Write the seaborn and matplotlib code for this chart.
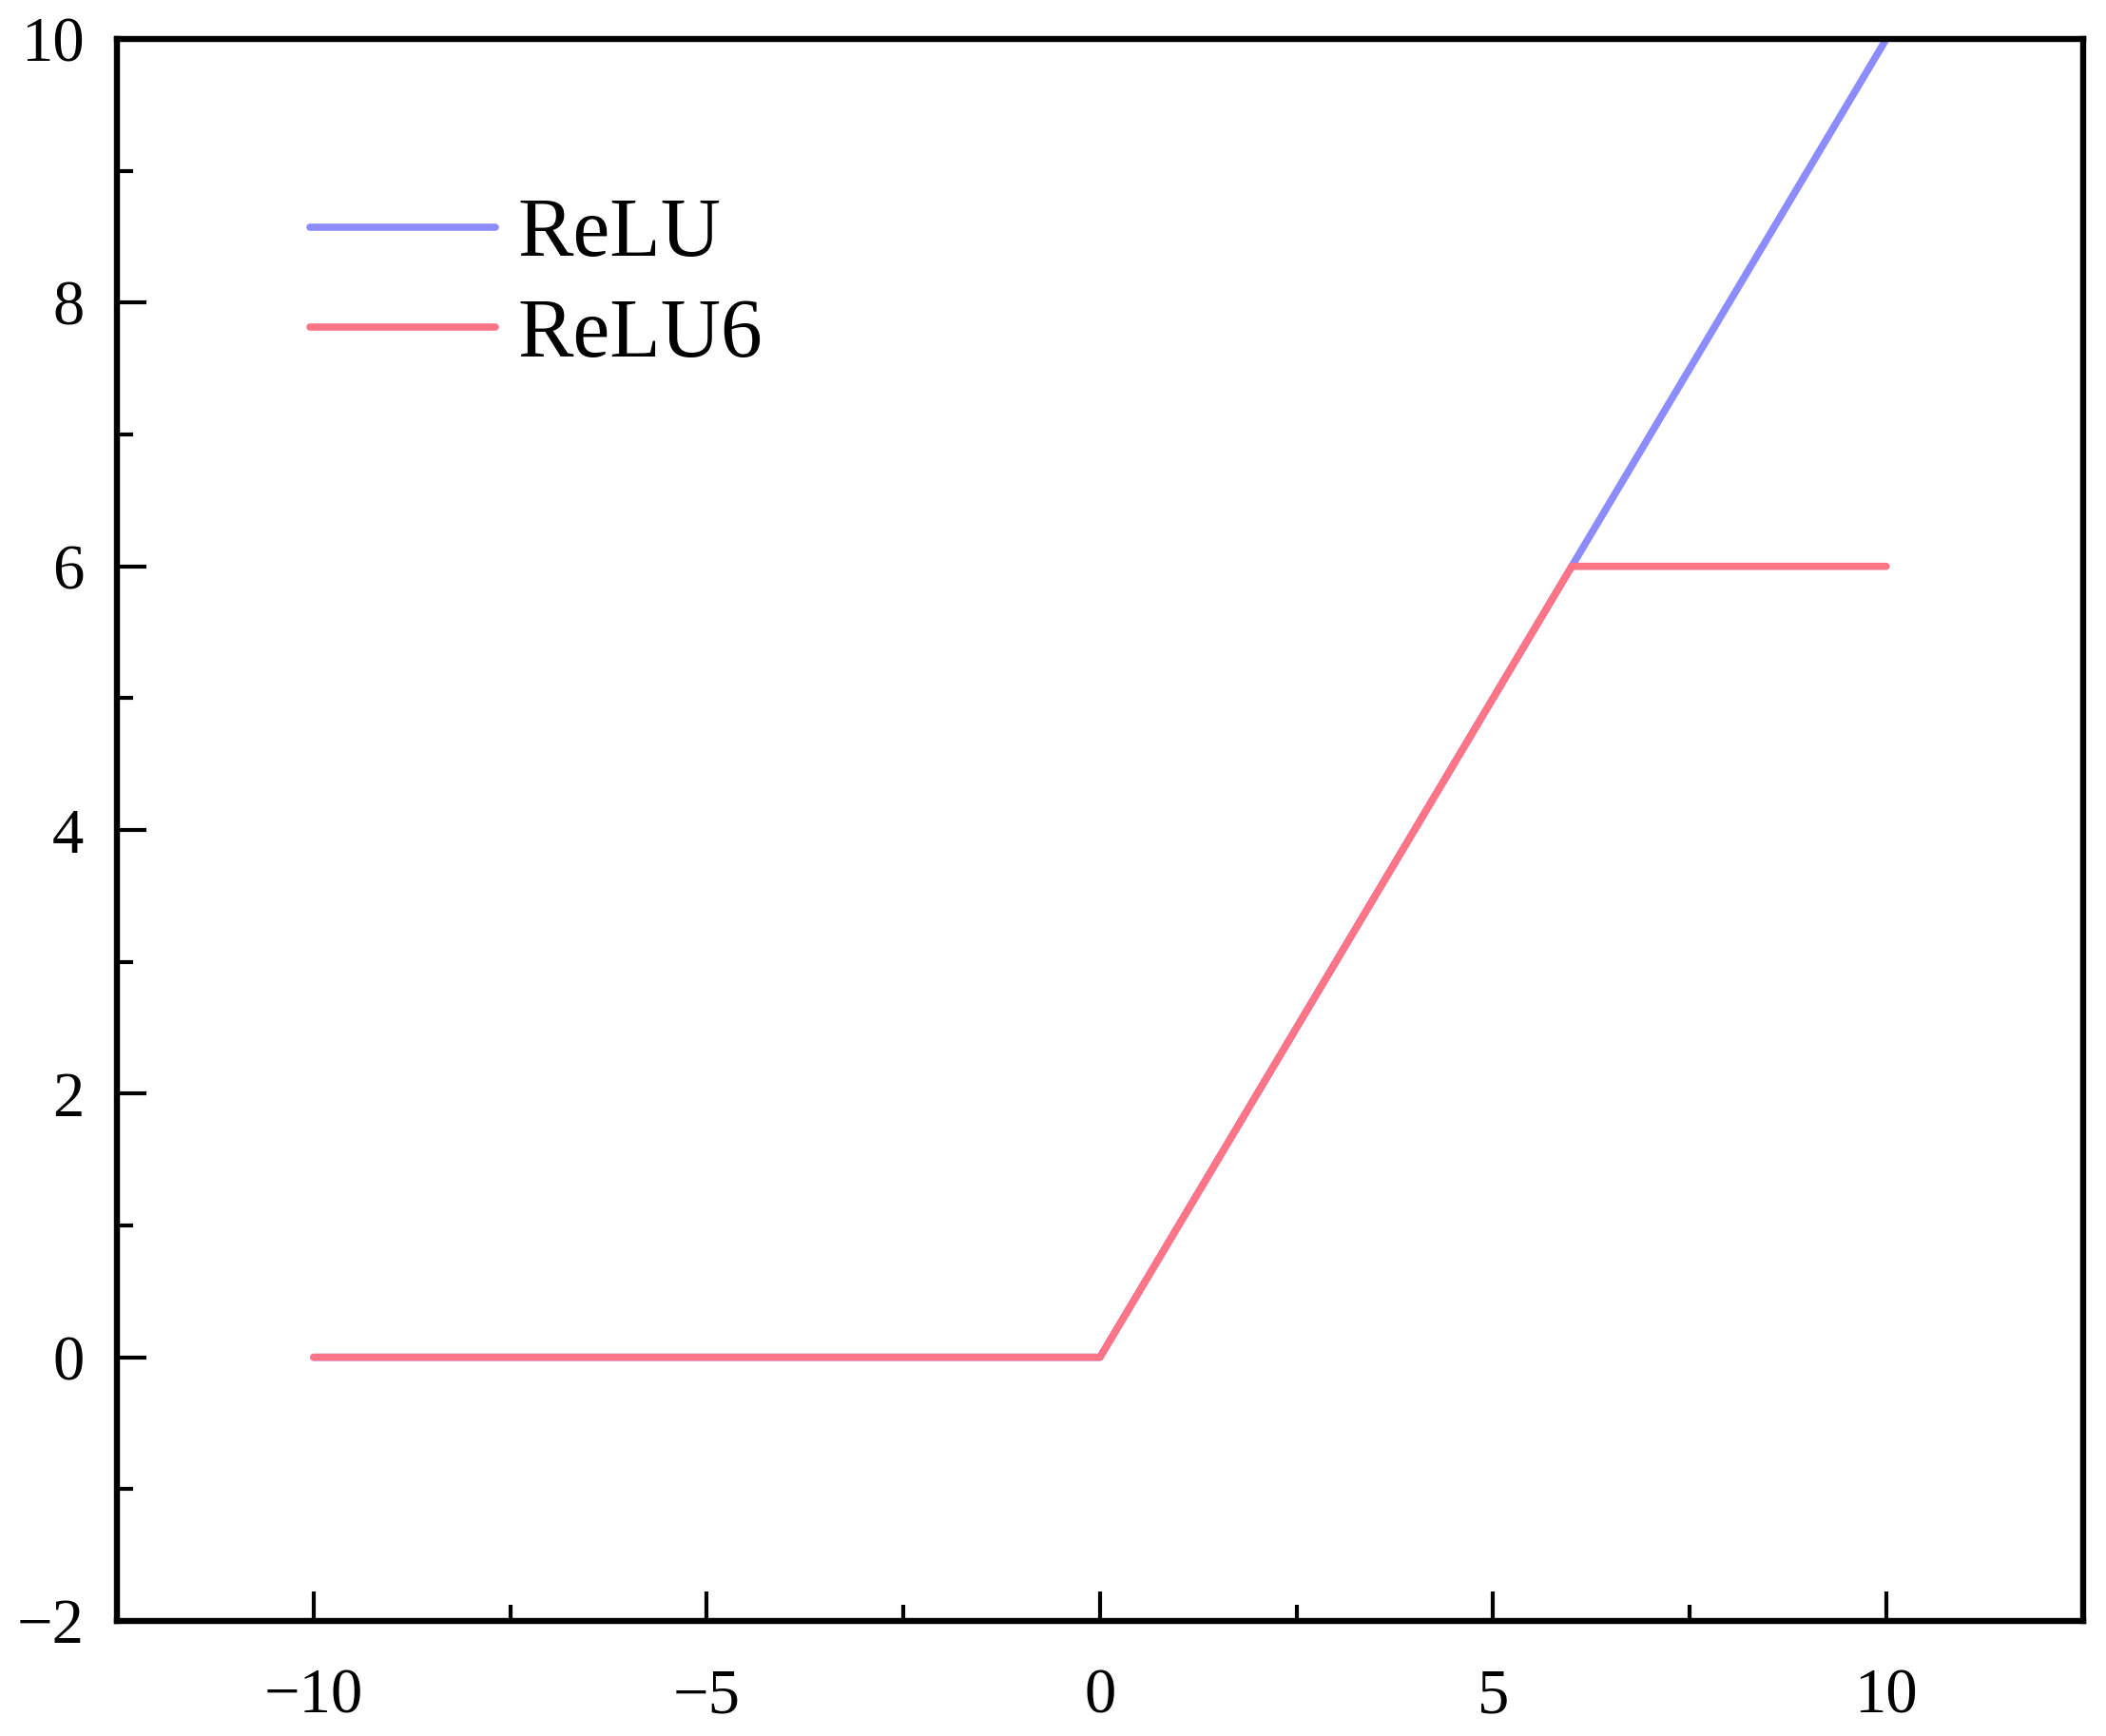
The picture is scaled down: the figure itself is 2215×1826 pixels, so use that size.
import pandas as pd
import seaborn as sns
import matplotlib.pyplot as plt
from matplotlib.ticker import MultipleLocator

# breakpoints of the two activation curves
x_vals = [-10, 0, 6, 10]
relu_vals = [0, 0, 6, 10]
relu6_vals = [0, 0, 6, 6]

df = pd.DataFrame({
    "x": x_vals * 2,
    "y": relu_vals + relu6_vals,
    "func": ["ReLU"] * len(x_vals) + ["ReLU6"] * len(x_vals),
})

color_palette = {"ReLU": "#8c8cff", "ReLU6": "#ff7585"}

sns.set_style("ticks")
plt.rcParams["font.family"] = ["Liberation Serif", "DejaVu Serif"]
plt.rcParams["text.color"] = "black"
plt.rcParams["xtick.labelcolor"] = "black"
plt.rcParams["ytick.labelcolor"] = "black"

fig = plt.figure(figsize=(22.15, 18.26), dpi=100)
ax = fig.add_axes([0.0556, 0.0663, 0.9334, 0.9112])

sns.lineplot(data=df, x="x", y="y", hue="func", palette=color_palette,
             linewidth=5.5, ax=ax, legend=False)

ax.set_xlim(-12.5, 12.5)
ax.set_ylim(-2, 10)
ax.xaxis.set_major_locator(MultipleLocator(5))
ax.xaxis.set_minor_locator(MultipleLocator(2.5))
ax.yaxis.set_major_locator(MultipleLocator(2))
ax.yaxis.set_minor_locator(MultipleLocator(1))
ax.set_xlabel("")
ax.set_ylabel("")

ax.tick_params(which="both", direction="in", width=3, color="black",
               labelcolor="black", top=False, right=False)
ax.tick_params(which="major", length=22, labelsize=48)
ax.tick_params(axis="x", which="major", pad=36)
ax.tick_params(axis="y", which="major", pad=25)
ax.tick_params(which="minor", length=12)

for sp in ax.spines.values():
    sp.set_linewidth(4.6)
    sp.set_color("black")

handles = [plt.Line2D([], [], color=color_palette[k], linewidth=5.5) for k in ["ReLU", "ReLU6"]]
leg = ax.legend(handles, ["ReLU", "ReLU6"], loc="upper left", bbox_to_anchor=(0.098, 0.900),
                frameon=False, fontsize=63, handlelength=2.23, handletextpad=0.27,
                labelspacing=0.28, borderpad=0, borderaxespad=0)
for t in leg.get_texts():
    t.set_color("black")

plt.savefig("out.png", dpi=100)
